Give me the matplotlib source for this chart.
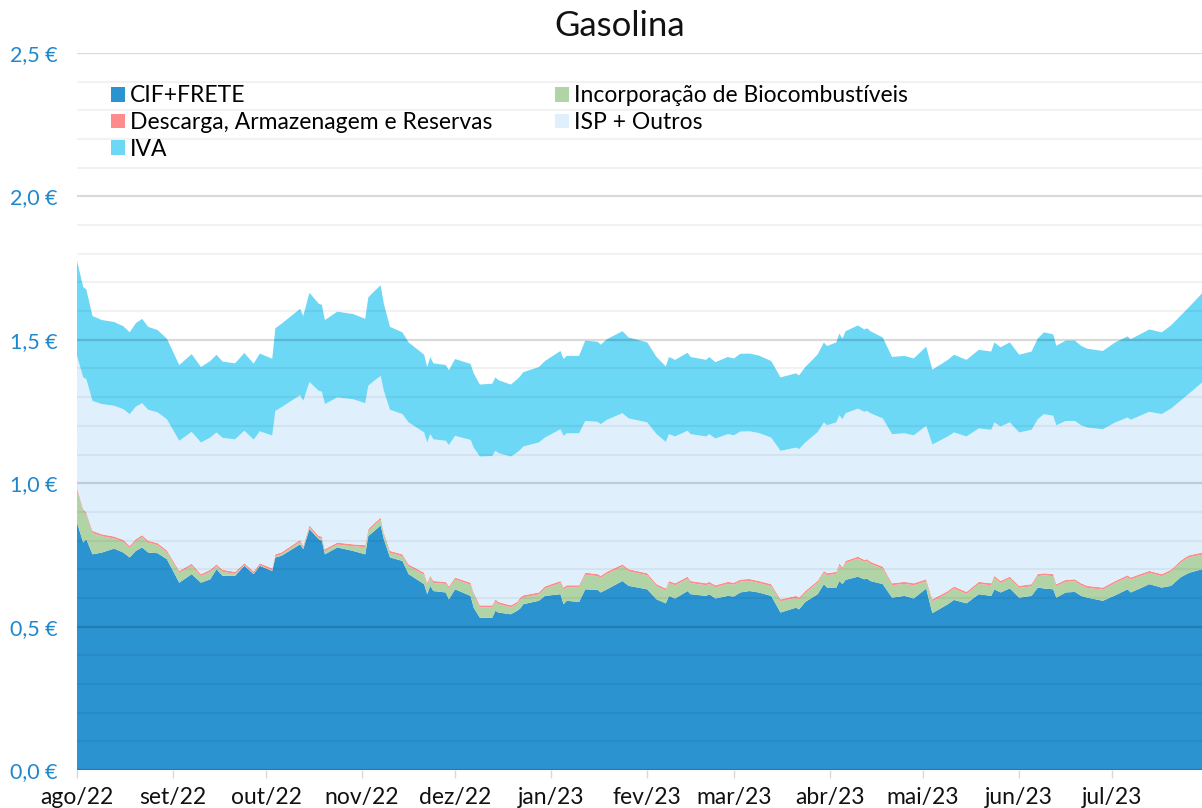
import datetime as dt
import numpy as np
import matplotlib
matplotlib.use("Agg")
import matplotlib.pyplot as plt
import matplotlib.dates as mdates
from matplotlib.ticker import MultipleLocator, FuncFormatter

plt.rcParams['font.family'] = ['Lato', 'DejaVu Sans']

title = "Gasolina"
start_date = "2022-08-01"
series_labels = ["CIF+FRETE", "Incorporação de Biocombustíveis",
                 "Descarga, Armazenagem e Reservas", "ISP + Outros", "IVA"]
month_names = ["jan", "fev", "mar", "abr", "mai", "jun",
               "jul", "ago", "set", "out", "nov", "dez"]

day_offset = [0, 2, 3, 5, 8, 12, 15, 17, 19, 21, 23, 26, 29, 33, 37, 40, 43, 45, 47, 51,
              54, 57, 59, 63, 64, 66, 72, 73, 75, 78, 79, 80, 84, 89, 93, 94, 96, 98, 99, 101,
              105, 107, 112, 113, 114, 115, 119, 120, 122, 127, 128, 130, 134, 135, 136, 140, 142, 143, 144, 149,
              151, 156, 157, 158, 162, 164, 168, 169, 171, 176, 178, 184, 187, 190, 191, 193, 197, 198, 203, 204,
              206, 210, 212, 214, 217, 220, 224, 227, 232, 233, 235, 239, 241, 242, 245, 246, 247, 248, 252, 254,
              255, 256, 260, 263, 267, 270, 274, 276, 281, 283, 287, 291, 295, 296, 298, 301, 304, 308, 310, 312,
              315, 316, 319, 322, 324, 326, 331, 335, 339, 340, 343, 346, 350, 353, 356, 358, 359, 363]

cif = [0.863, 0.793, 0.805, 0.752, 0.758, 0.772, 0.758, 0.741, 0.764, 0.776, 0.758, 0.756, 0.735, 0.653, 0.683, 0.653, 0.665, 0.700, 0.677, 0.677,
       0.712, 0.683, 0.712, 0.694, 0.741, 0.747, 0.787, 0.770, 0.840, 0.805, 0.799, 0.752, 0.776, 0.764, 0.752, 0.816, 0.834, 0.853, 0.805, 0.741,
       0.729, 0.683, 0.648, 0.613, 0.642, 0.624, 0.619, 0.595, 0.630, 0.607, 0.566, 0.531, 0.531, 0.555, 0.549, 0.543, 0.555, 0.563, 0.578, 0.590,
       0.607, 0.613, 0.578, 0.590, 0.586, 0.630, 0.628, 0.619, 0.630, 0.659, 0.642, 0.630, 0.595, 0.581, 0.607, 0.598, 0.624, 0.613, 0.607, 0.613,
       0.598, 0.607, 0.605, 0.619, 0.624, 0.619, 0.607, 0.549, 0.566, 0.560, 0.586, 0.613, 0.648, 0.636, 0.636, 0.659, 0.648, 0.663, 0.674, 0.665,
       0.667, 0.659, 0.648, 0.601, 0.607, 0.598, 0.633, 0.547, 0.578, 0.593, 0.581, 0.613, 0.607, 0.630, 0.619, 0.633, 0.601, 0.607, 0.636, 0.633,
       0.630, 0.601, 0.619, 0.621, 0.607, 0.601, 0.590, 0.609, 0.630, 0.619, 0.633, 0.648, 0.636, 0.642, 0.671, 0.683, 0.688, 0.700]

bio = [0.115, 0.109, 0.086, 0.075, 0.057, 0.035, 0.037, 0.033, 0.034, 0.036, 0.034, 0.028, 0.024, 0.034, 0.029, 0.023, 0.026, 0.010, 0.014, 0.007,
       0.002, 0.002, 0.002, 0.002, 0.004, 0.005, 0.008, 0.004, 0.006, 0.004, 0.008, 0.011, 0.010, 0.016, 0.025, 0.017, 0.020, 0.020, 0.016, 0.016,
       0.016, 0.027, 0.033, 0.033, 0.028, 0.028, 0.030, 0.038, 0.034, 0.039, 0.046, 0.036, 0.036, 0.033, 0.030, 0.024, 0.024, 0.031, 0.024, 0.022,
       0.026, 0.039, 0.051, 0.047, 0.051, 0.051, 0.048, 0.051, 0.054, 0.051, 0.051, 0.049, 0.046, 0.045, 0.045, 0.046, 0.043, 0.039, 0.037, 0.036,
       0.039, 0.042, 0.041, 0.038, 0.035, 0.033, 0.034, 0.039, 0.034, 0.034, 0.031, 0.040, 0.039, 0.043, 0.048, 0.055, 0.051, 0.059, 0.063, 0.061,
       0.061, 0.060, 0.054, 0.043, 0.042, 0.046, 0.025, 0.041, 0.039, 0.040, 0.033, 0.036, 0.037, 0.040, 0.033, 0.034, 0.034, 0.034, 0.040, 0.046,
       0.046, 0.040, 0.037, 0.037, 0.037, 0.034, 0.039, 0.043, 0.042, 0.045, 0.043, 0.039, 0.040, 0.049, 0.051, 0.054, 0.054, 0.051]

desc = [0.007] * 138

isp = [0.459, 0.460, 0.465, 0.453, 0.454, 0.456, 0.456, 0.460, 0.462, 0.460, 0.457, 0.456, 0.457, 0.454, 0.460, 0.459, 0.461, 0.460, 0.460, 0.462,
       0.462, 0.460, 0.460, 0.463, 0.500, 0.506, 0.505, 0.506, 0.500, 0.506, 0.505, 0.506, 0.506, 0.506, 0.495, 0.500, 0.497, 0.494, 0.494, 0.492,
       0.489, 0.495, 0.489, 0.489, 0.494, 0.494, 0.492, 0.493, 0.494, 0.498, 0.505, 0.519, 0.521, 0.518, 0.519, 0.519, 0.521, 0.515, 0.519, 0.523,
       0.519, 0.529, 0.529, 0.530, 0.530, 0.529, 0.531, 0.529, 0.530, 0.527, 0.526, 0.526, 0.523, 0.511, 0.512, 0.512, 0.509, 0.512, 0.512, 0.515,
       0.512, 0.515, 0.514, 0.516, 0.515, 0.516, 0.511, 0.518, 0.517, 0.518, 0.518, 0.518, 0.518, 0.516, 0.521, 0.516, 0.517, 0.515, 0.516, 0.516,
       0.517, 0.518, 0.517, 0.520, 0.518, 0.516, 0.535, 0.540, 0.539, 0.537, 0.542, 0.535, 0.535, 0.535, 0.539, 0.538, 0.535, 0.538, 0.540, 0.555,
       0.552, 0.554, 0.554, 0.552, 0.551, 0.552, 0.552, 0.553, 0.550, 0.550, 0.552, 0.555, 0.558, 0.562, 0.558, 0.561, 0.565, 0.593]

iva = [0.332, 0.315, 0.313, 0.296, 0.293, 0.292, 0.289, 0.285, 0.291, 0.294, 0.289, 0.287, 0.281, 0.264, 0.271, 0.263, 0.267, 0.271, 0.266, 0.265,
       0.271, 0.265, 0.271, 0.268, 0.288, 0.291, 0.301, 0.296, 0.311, 0.304, 0.303, 0.293, 0.299, 0.297, 0.294, 0.308, 0.312, 0.316, 0.304, 0.289,
       0.285, 0.279, 0.271, 0.263, 0.269, 0.265, 0.264, 0.261, 0.268, 0.265, 0.259, 0.251, 0.252, 0.256, 0.254, 0.251, 0.255, 0.257, 0.259, 0.263,
       0.267, 0.273, 0.268, 0.270, 0.270, 0.280, 0.279, 0.277, 0.281, 0.286, 0.282, 0.279, 0.269, 0.263, 0.269, 0.267, 0.272, 0.269, 0.267, 0.269,
       0.266, 0.269, 0.268, 0.271, 0.271, 0.270, 0.267, 0.256, 0.259, 0.257, 0.263, 0.271, 0.279, 0.276, 0.279, 0.285, 0.281, 0.286, 0.290, 0.287,
       0.288, 0.286, 0.282, 0.269, 0.270, 0.268, 0.276, 0.261, 0.267, 0.271, 0.267, 0.274, 0.273, 0.279, 0.276, 0.279, 0.271, 0.273, 0.281, 0.285,
       0.284, 0.277, 0.280, 0.280, 0.277, 0.275, 0.273, 0.279, 0.283, 0.281, 0.284, 0.287, 0.285, 0.290, 0.296, 0.300, 0.302, 0.311]

colors = ["#2b93d0", "#b0d4a6", "#ff8c8c", "#dff0fc", "#6dd7f6"]

base = dt.date.fromisoformat(start_date)
dates = [base + dt.timedelta(days=d) for d in day_offset]

fig = plt.figure(figsize=(12.02, 8.08), dpi=100)
ax = fig.add_axes([77 / 1202, 1 - 770 / 808, 1 - 77 / 1202, (770 - 53) / 808])

ax.stackplot(dates, cif, bio, desc, isp, iva, colors=colors,
             labels=series_labels, linewidth=0, zorder=1)

ax.set_ylim(0, 2.5)
ax.set_xlim(dates[0], dates[-1])

ax.yaxis.set_major_locator(MultipleLocator(0.5))
ax.yaxis.set_minor_locator(MultipleLocator(0.1))
ax.yaxis.set_major_formatter(FuncFormatter(lambda v, p: f"{v:.1f}".replace(".", ",") + " €"))
ax.grid(True, which='major', axis='y', color='black', alpha=0.15, linewidth=1.6, zorder=3)
ax.grid(True, which='minor', axis='y', color='black', alpha=0.05, linewidth=1.6, zorder=3)
ax.set_axisbelow(False)

ax.xaxis.set_major_locator(mdates.MonthLocator())
ax.xaxis.set_major_formatter(FuncFormatter(
    lambda v, p: f"{month_names[mdates.num2date(v).month - 1]}/{mdates.num2date(v).strftime('%y')}"))

ax.tick_params(axis='y', which='both', length=0, pad=14, labelsize=15.5, labelcolor='#1f88cc')
ax.tick_params(axis='x', which='major', length=6, width=1, color='#d8d8d8', pad=6,
               labelsize=16.5, labelcolor='#111111')
for s in ax.spines.values():
    s.set_visible(False)

# Legend: column-major order gives CIF / Descarga / IVA in col 1, Bio / ISP in col 2
handles, labels = ax.get_legend_handles_labels()
order = [0, 2, 4, 1, 3]
leg = ax.legend([handles[i] for i in order], [labels[i] for i in order],
                ncol=2, loc='upper left', bbox_to_anchor=(0.030, 0.955), frameon=False,
                fontsize=16.5, handlelength=0.62, handleheight=0.62, handletextpad=0.2,
                columnspacing=2.75, labelspacing=0.25, borderaxespad=0, borderpad=0)

fig.text(620 / 1202, 1 - 26 / 808, title, ha='center', va='center', fontsize=25, color='#111111')

fig.savefig("out.png", dpi=100)
